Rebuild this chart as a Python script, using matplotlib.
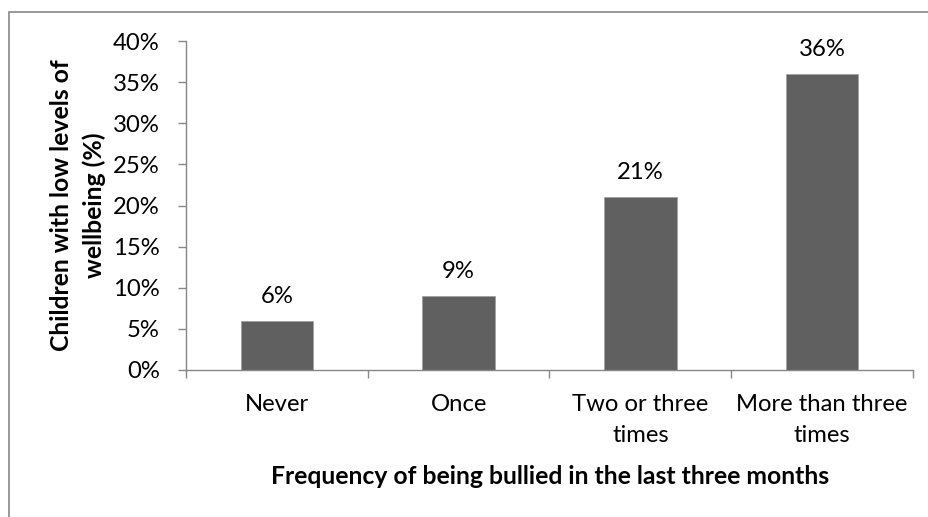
import numpy as np
import matplotlib.pyplot as plt
from matplotlib.patches import Rectangle

categories = ["Never", "Once", "Two or three\ntimes", "More than three\ntimes"]
values = [6, 9, 21, 36]
yticks = [0, 5, 10, 15, 20, 25, 30, 35, 40]

W, H = 929, 517
plt.rcParams['font.family'] = ['Lato', 'DejaVu Sans']
fs = 17.2
fs_bold = 17.8
grey = '#868686'

fig = plt.figure(figsize=(W / 100, H / 100), dpi=100)
ax = fig.add_axes([186 / W, 1 - 370 / H, (913 - 186) / W, (370 - 41) / H])

x = np.arange(len(categories))
ax.bar(x, values, width=0.4, color='#606060', edgecolor='#a0a0a0', linewidth=0.6)

for xi, v in zip(x, values):
    ax.annotate(f"{v}%", (xi, v), xytext=(0, 13), textcoords='offset points',
                ha='center', va='baseline', fontsize=fs)

ax.set_xlim(-0.5, len(categories) - 0.5)
ax.set_ylim(0, 40)
ax.set_yticks(yticks)
ax.set_yticklabels([f"{t}%" for t in yticks], fontsize=fs)
ax.set_xticks(x)
ax.set_xticklabels(categories, fontsize=fs, linespacing=1.62)
ax.set_xticks(np.arange(len(categories) + 1) - 0.5, minor=True)

ax.tick_params(axis='y', direction='out', length=5.8, width=1, color=grey, pad=13)
ax.tick_params(axis='x', which='major', length=0, pad=17)
ax.tick_params(axis='x', which='minor', direction='out', length=5.8, width=1, color=grey)

for s in ['top', 'right']:
    ax.spines[s].set_visible(False)
for s in ['left', 'bottom']:
    ax.spines[s].set_color(grey)
    ax.spines[s].set_linewidth(1)

fig.text(78 / W, 1 - 205.5 / H, "Children with low levels of\nwellbeing (%)", rotation=90,
         ha='center', va='center', fontsize=fs_bold, fontweight='bold', linespacing=1.5)
fig.text(550 / W, 1 - 476 / H, "Frequency of being bullied in the last three months",
         ha='center', va='center', fontsize=fs_bold, fontweight='bold')

# chart-area outline
fig.patches.append(Rectangle((8.5 / W, -0.1), 1.2, 1 - 11.5 / H + 0.1, transform=fig.transFigure,
                             fill=False, edgecolor='#888888', linewidth=1.2))

fig.savefig("out.png", dpi=100)
